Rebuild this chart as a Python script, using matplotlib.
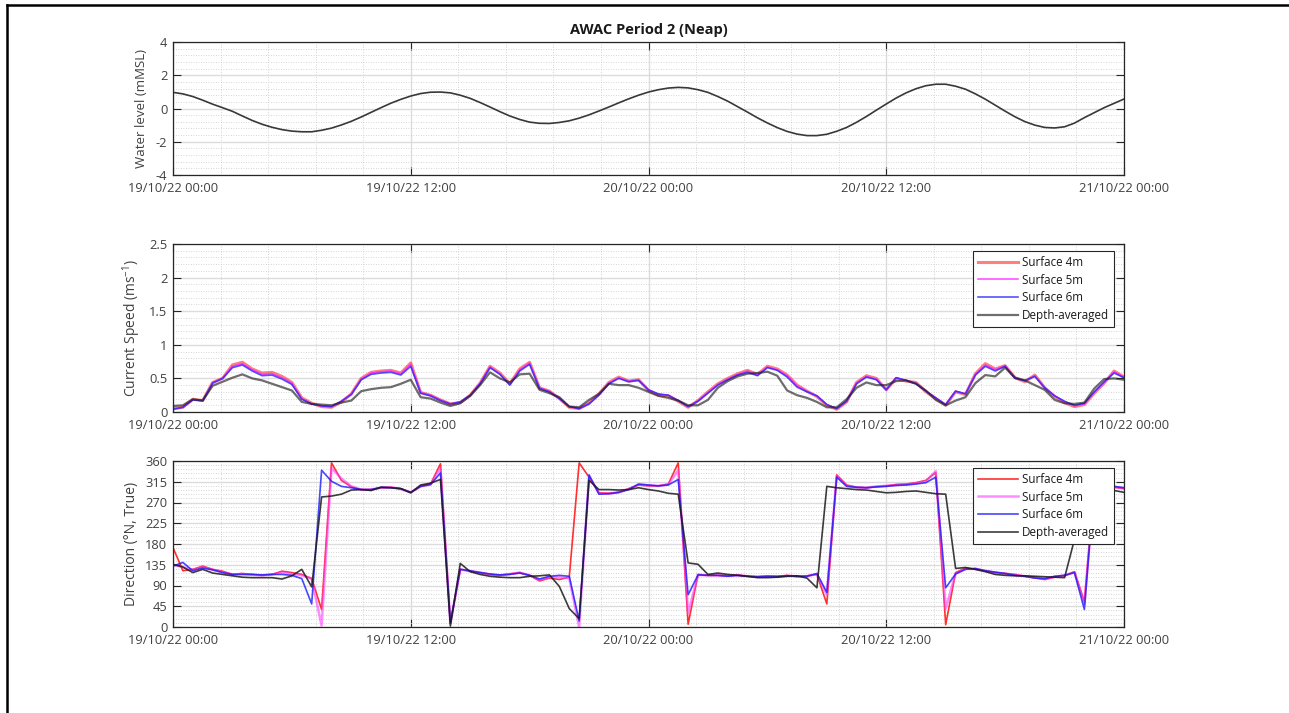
import numpy as np
import pandas as pd
import matplotlib
matplotlib.use('Agg')
import matplotlib.pyplot as plt
import matplotlib.dates as mdates
from matplotlib.ticker import MultipleLocator, FormatStrFormatter
from matplotlib.lines import Line2D

# ---------------- data ----------------
start = '2022-10-19 00:00'
end = '2022-10-21 00:00'

# half-hourly water level (mMSL)
water_level = [0.97, 0.88, 0.72, 0.50, 0.26, 0.05, -0.17, -0.45, -0.72, -0.95,
               -1.13, -1.27, -1.36, -1.40, -1.40, -1.31, -1.18, -0.99, -0.77, -0.51,
               -0.23, 0.05, 0.32, 0.55, 0.75, 0.90, 0.98, 0.99, 0.94, 0.80,
               0.61, 0.36, 0.09, -0.19, -0.45, -0.66, -0.82, -0.89, -0.90, -0.84,
               -0.74, -0.58, -0.38, -0.15, 0.09, 0.34, 0.58, 0.80, 0.99, 1.13,
               1.23, 1.27, 1.24, 1.13, 0.97, 0.72, 0.44, 0.11, -0.22, -0.56,
               -0.87, -1.15, -1.38, -1.54, -1.63, -1.63, -1.55, -1.37, -1.14, -0.83,
               -0.48, -0.10, 0.27, 0.63, 0.94, 1.19, 1.37, 1.46, 1.46, 1.34,
               1.16, 0.88, 0.56, 0.20, -0.16, -0.50, -0.79, -1.00, -1.14, -1.17,
               -1.10, -0.88, -0.55, -0.25, 0.05, 0.31, 0.57]

# half-hourly current speed (m/s)
speed_4m = [0.05, 0.07, 0.19, 0.17, 0.44, 0.50, 0.70, 0.74, 0.64, 0.58,
            0.59, 0.53, 0.44, 0.21, 0.13, 0.08, 0.07, 0.15, 0.27, 0.50,
            0.59, 0.61, 0.62, 0.58, 0.73, 0.29, 0.25, 0.18, 0.12, 0.14,
            0.25, 0.43, 0.68, 0.58, 0.42, 0.64, 0.74, 0.36, 0.31, 0.20,
            0.07, 0.05, 0.13, 0.27, 0.44, 0.52, 0.46, 0.48, 0.32, 0.25,
            0.24, 0.16, 0.07, 0.17, 0.30, 0.42, 0.50, 0.57, 0.62, 0.56,
            0.68, 0.64, 0.55, 0.40, 0.31, 0.23, 0.10, 0.04, 0.15, 0.44,
            0.54, 0.50, 0.33, 0.50, 0.46, 0.44, 0.30, 0.20, 0.10, 0.30,
            0.26, 0.57, 0.72, 0.64, 0.69, 0.51, 0.45, 0.55, 0.36, 0.23,
            0.14, 0.08, 0.11, 0.28, 0.43, 0.61, 0.52]
speed_5m = [0.05, 0.07, 0.18, 0.17, 0.44, 0.50, 0.68, 0.72, 0.63, 0.56,
            0.57, 0.51, 0.43, 0.20, 0.12, 0.09, 0.08, 0.16, 0.27, 0.49,
            0.58, 0.60, 0.61, 0.57, 0.71, 0.29, 0.25, 0.18, 0.12, 0.15,
            0.25, 0.43, 0.67, 0.57, 0.41, 0.63, 0.73, 0.36, 0.31, 0.20,
            0.08, 0.05, 0.13, 0.26, 0.43, 0.51, 0.46, 0.48, 0.33, 0.26,
            0.25, 0.17, 0.08, 0.17, 0.29, 0.41, 0.49, 0.56, 0.61, 0.55,
            0.67, 0.63, 0.54, 0.39, 0.31, 0.24, 0.11, 0.05, 0.16, 0.43,
            0.53, 0.49, 0.33, 0.51, 0.47, 0.43, 0.31, 0.21, 0.11, 0.31,
            0.27, 0.56, 0.70, 0.63, 0.69, 0.51, 0.46, 0.54, 0.36, 0.24,
            0.15, 0.09, 0.12, 0.29, 0.44, 0.60, 0.52]
speed_6m = [0.04, 0.07, 0.18, 0.17, 0.43, 0.50, 0.66, 0.70, 0.61, 0.54,
            0.55, 0.49, 0.41, 0.19, 0.12, 0.09, 0.08, 0.16, 0.26, 0.48,
            0.56, 0.58, 0.59, 0.55, 0.68, 0.28, 0.24, 0.17, 0.12, 0.15,
            0.25, 0.42, 0.66, 0.56, 0.40, 0.61, 0.71, 0.35, 0.30, 0.20,
            0.08, 0.05, 0.12, 0.25, 0.42, 0.50, 0.45, 0.47, 0.33, 0.27,
            0.25, 0.17, 0.08, 0.16, 0.28, 0.40, 0.48, 0.55, 0.59, 0.54,
            0.66, 0.62, 0.52, 0.37, 0.30, 0.24, 0.11, 0.05, 0.16, 0.42,
            0.52, 0.48, 0.33, 0.51, 0.47, 0.42, 0.31, 0.21, 0.11, 0.31,
            0.27, 0.55, 0.68, 0.61, 0.68, 0.50, 0.47, 0.53, 0.36, 0.24,
            0.16, 0.10, 0.13, 0.30, 0.45, 0.58, 0.51]
speed_avg = [0.09, 0.10, 0.19, 0.17, 0.39, 0.45, 0.51, 0.56, 0.50, 0.47,
             0.42, 0.37, 0.32, 0.15, 0.12, 0.11, 0.10, 0.14, 0.17, 0.31,
             0.34, 0.36, 0.37, 0.42, 0.48, 0.22, 0.20, 0.14, 0.09, 0.13,
             0.24, 0.40, 0.59, 0.50, 0.44, 0.56, 0.57, 0.33, 0.28, 0.22,
             0.08, 0.07, 0.18, 0.27, 0.42, 0.40, 0.40, 0.36, 0.30, 0.24,
             0.21, 0.17, 0.10, 0.10, 0.18, 0.36, 0.46, 0.53, 0.57, 0.58,
             0.60, 0.54, 0.32, 0.25, 0.21, 0.15, 0.07, 0.07, 0.19, 0.36,
             0.44, 0.40, 0.40, 0.46, 0.47, 0.42, 0.32, 0.18, 0.10, 0.17,
             0.22, 0.43, 0.55, 0.53, 0.66, 0.51, 0.47, 0.40, 0.33, 0.18,
             0.13, 0.12, 0.14, 0.35, 0.49, 0.50, 0.48]

# half-hourly direction (deg N, True)
dir_4m = [172, 122, 125, 132, 125, 121, 114, 116, 114, 112,
          114, 121, 118, 114, 105, 38, 356, 318, 304, 298,
          298, 302, 303, 300, 292, 305, 310, 354, 8, 125,
          121, 118, 114, 112, 115, 118, 112, 100, 106, 103,
          108, 356, 325, 291, 290, 292, 300, 308, 306, 306,
          310, 356, 6, 114, 112, 112, 111, 113, 110, 109,
          110, 109, 112, 109, 111, 114, 50, 330, 308, 303,
          302, 304, 306, 309, 310, 313, 318, 335, 5, 118,
          128, 125, 122, 118, 116, 114, 110, 107, 103, 108,
          111, 120, 55, 302, 300, 303, 300]
dir_5m = [135, 130, 124, 130, 124, 119, 114, 115, 113, 112,
          114, 118, 115, 112, 105, 3, 345, 322, 305, 298,
          298, 302, 303, 299, 292, 305, 309, 345, 8, 125,
          121, 118, 114, 112, 115, 118, 112, 102, 108, 108,
          106, 0, 327, 290, 289, 292, 299, 309, 307, 306,
          309, 340, 30, 113, 112, 112, 111, 112, 110, 109,
          110, 109, 111, 110, 110, 115, 70, 328, 306, 303,
          302, 305, 306, 308, 309, 312, 316, 338, 40, 116,
          126, 126, 122, 118, 116, 113, 110, 107, 104, 109,
          112, 119, 50, 303, 302, 304, 301]
dir_6m = [132, 140, 122, 128, 124, 118, 114, 114, 114, 113,
          114, 114, 112, 105, 50, 340, 316, 305, 302, 298,
          298, 303, 302, 300, 292, 305, 309, 334, 10, 125,
          122, 118, 115, 113, 114, 117, 112, 104, 110, 112,
          110, 13, 330, 288, 289, 292, 298, 310, 308, 306,
          308, 320, 70, 113, 112, 112, 110, 112, 110, 109,
          110, 110, 111, 110, 110, 116, 75, 325, 305, 303,
          302, 304, 305, 307, 308, 310, 313, 325, 85, 115,
          125, 127, 122, 119, 116, 112, 110, 106, 105, 110,
          112, 118, 38, 305, 303, 305, 302]
dir_avg = [136, 130, 118, 125, 117, 114, 111, 108, 107, 107,
           107, 104, 111, 125, 87, 282, 284, 288, 297, 298,
           296, 303, 302, 300, 291, 308, 312, 320, 2, 138,
           120, 114, 110, 108, 107, 107, 110, 111, 113, 88,
           40, 18, 318, 298, 298, 297, 298, 302, 298, 295,
           290, 288, 139, 136, 114, 117, 114, 112, 110, 107,
           107, 108, 110, 111, 106, 85, 305, 302, 300, 298,
           297, 294, 291, 292, 294, 295, 292, 289, 288, 127,
           129, 125, 120, 114, 112, 111, 111, 110, 109, 108,
           107, 190, 292, 295, 293, 296, 292]

series_labels = ['Surface 4m', 'Surface 5m', 'Surface 6m', 'Depth-averaged']
title = 'AWAC Period 2 (Neap)'

t_hh = pd.date_range(start, periods=len(speed_4m), freq='30min')
t_wl = pd.date_range(start, periods=len(water_level), freq='30min')

# ---------------- figure ----------------
plt.rcParams['font.family'] = ['Open Sans', 'DejaVu Sans']
plt.rcParams['mathtext.default'] = 'regular'

W, H = 1289, 713
fig = plt.figure(figsize=(W / 100, H / 100), dpi=100)

def fbox(l, r, t, b):
    return [l / W, 1 - b / H, (r - l) / W, (b - t) / H]

ax1 = fig.add_axes(fbox(173, 1124, 42, 175))
ax2 = fig.add_axes(fbox(173, 1124, 244, 412))
ax3 = fig.add_axes(fbox(173, 1124, 461, 627))

TXT = '#404040'

def style(ax, y0, y1, ymaj, ymin):
    ax.set_xlim(pd.Timestamp(start), pd.Timestamp(end))
    ax.set_ylim(y0, y1)
    ax.xaxis.set_major_locator(MultipleLocator(0.5))
    ax.xaxis.set_minor_locator(MultipleLocator(0.1))
    ax.xaxis.set_major_formatter(mdates.DateFormatter('%d/%m/%y %H:%M'))
    ax.yaxis.set_major_locator(MultipleLocator(ymaj))
    ax.yaxis.set_minor_locator(MultipleLocator(ymin))
    ax.yaxis.set_major_formatter(FormatStrFormatter('%g'))
    ax.grid(which='major', color='#dcdcdc', lw=1.0, ls='-')
    ax.grid(which='minor', color='#c8c8c8', lw=0.6, ls=(0, (1, 2)))
    ax.set_axisbelow(True)
    ax.tick_params(which='major', direction='in', length=6, width=0.8,
                   top=True, right=True, color='#262626',
                   labelcolor=TXT, labelsize=9.3)
    ax.tick_params(axis='x', which='major', pad=5)
    ax.tick_params(axis='y', which='major', pad=4)
    ax.tick_params(which='minor', length=0, top=True, right=True)
    for s in ax.spines.values():
        s.set_color('#262626')
        s.set_linewidth(0.9)

# panel 1
style(ax1, -4, 4, 2, 0.4)
ax1.plot(t_wl, water_level, color='#383838', lw=1.2)
ax1.set_ylabel('Water level (mMSL)', fontsize=9.5, color=TXT)
ax1.yaxis.set_label_coords(-0.0263, 0.5)
ax1.set_title(title, fontsize=10.5, fontweight='bold', color='#1a1a1a', pad=6)

# panel 2
style(ax2, 0, 2.5, 0.5, 0.1)
ax2.plot(t_hh, speed_4m, color='#ff2a2a', lw=2.2, alpha=0.6, label=series_labels[0])
ax2.plot(t_hh, speed_5m, color='#ff30ff', lw=1.1, alpha=0.9, label=series_labels[1])
ax2.plot(t_hh, speed_6m, color='#2828ff', lw=1.2, alpha=0.8, label=series_labels[2])
ax2.plot(t_hh, speed_avg, color='#202020', lw=1.6, alpha=0.65, label=series_labels[3])
ax2.set_ylabel('Current Speed (ms$^{-1}$)', fontsize=10, color=TXT)
ax2.yaxis.set_label_coords(-0.0315, 0.5)

# panel 3
style(ax3, 0, 360, 45, 9)
ax3.plot(t_hh, dir_4m, color='#ff1a1a', lw=1.2, alpha=0.9, label=series_labels[0])
ax3.plot(t_hh, dir_5m, color='#ff40ff', lw=1.8, alpha=0.6, label=series_labels[1])
ax3.plot(t_hh, dir_6m, color='#1a1aff', lw=1.2, alpha=0.8, label=series_labels[2])
ax3.plot(t_hh, dir_avg, color='#1a1a1a', lw=1.2, alpha=0.85, label=series_labels[3])
ax3.set_ylabel('Direction (\u00b0N, True)', fontsize=10, color=TXT)
ax3.yaxis.set_label_coords(-0.0357, 0.5)

for ax, top_gap in ((ax2, 7 / 168), (ax3, 7 / 166)):
    leg = ax.legend(loc='upper right', bbox_to_anchor=(1 - 10 / 951, 1 - top_gap),
                    borderaxespad=0, fontsize=8.4, frameon=True, fancybox=False,
                    framealpha=1, edgecolor='#262626', handlelength=3.4,
                    handletextpad=0.4, labelspacing=0.42, borderpad=0.4)
    leg.get_frame().set_linewidth(0.8)
    for txt in leg.get_texts():
        txt.set_color('#1a1a1a')

# outer frame (top and left edges)
fig.add_artist(Line2D([7 / W, 1], [1 - 5 / H, 1 - 5 / H], transform=fig.transFigure,
                      color='black', lw=1.8))
fig.add_artist(Line2D([7 / W, 7 / W], [0, 1 - 5 / H], transform=fig.transFigure,
                      color='black', lw=1.8))

fig.savefig('out.png', dpi=100, facecolor='white')
